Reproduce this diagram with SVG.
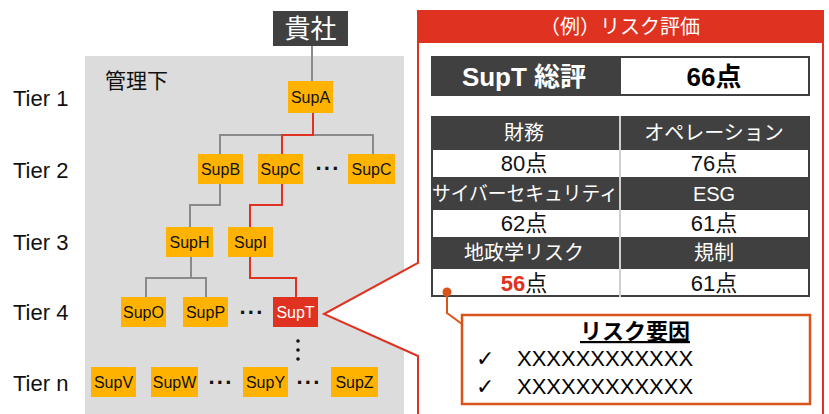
<svg xmlns="http://www.w3.org/2000/svg" width="829" height="414" viewBox="0 0 829 414">
<style>
.sup{fill:#FFB300}
.st{font-family:"Liberation Sans",Arial,sans-serif;font-size:16px;fill:#111;text-anchor:middle}
.tier{font-family:"Liberation Sans",Arial,sans-serif;font-size:22px;fill:#111}
.g{fill:none;stroke:#8a8a8a;stroke-width:2}
.r{fill:none;stroke:#E03220;stroke-width:2}
.dots{font-family:"Liberation Sans",Arial,sans-serif;font-size:22px;font-weight:bold;fill:#111;text-anchor:middle;letter-spacing:1px}
.jp{font-family:"Liberation Sans","Noto Sans CJK JP",sans-serif;text-anchor:middle}
.hd{font-size:20px;fill:#fff}
.vl{font-size:22px;fill:#111}
.chk{font-family:"DejaVu Sans",sans-serif;font-size:22px;fill:#000}
</style>
<rect width="829" height="414" fill="#fff"/>
<rect x="85" y="56" width="319" height="360" fill="#DCDCDC"/>
<text x="105" y="88" font-family="'Noto Sans CJK JP',sans-serif" font-size="21" fill="#111">管理下</text>
<g id="tiers">
<text class="tier" x="13" y="106">Tier 1</text>
<text class="tier" x="13" y="178">Tier 2</text>
<text class="tier" x="13" y="250">Tier 3</text>
<text class="tier" x="13" y="320">Tier 4</text>
<text class="tier" x="13" y="391">Tier n</text>
</g>
<g id="connectors">
<path class="g" d="M312 46V81"/>
<path class="g" d="M220 154V135H373V154"/>
<path class="g" d="M220 184V205H190V227"/>
<path class="g" d="M191 257V278H146V297M191 278H206V297"/>
<path class="r" d="M313 113V135H282V154"/>
<path class="r" d="M282 184V205H250V227"/>
<path class="r" d="M250 257V278H296V297"/>
</g>
<g id="kisha"><rect x="273" y="11" width="75" height="35" fill="#404040"/><text x="310.5" y="38" class="jp" font-size="26" fill="#fff">貴社</text></g>
<g id="supA"><rect class="sup" x="288" y="81" width="45" height="32"/><text class="st" x="310.5" y="103">SupA</text></g>
<g id="supB"><rect class="sup" x="198" y="154" width="45" height="30"/><text class="st" x="220.5" y="175">SupB</text></g>
<g id="supC"><rect class="sup" x="258" y="154" width="45" height="30"/><text class="st" x="280.5" y="175">SupC</text></g>
<text class="dots" x="328" y="176">···</text>
<g id="supC2"><rect class="sup" x="348" y="154" width="47" height="30"/><text class="st" x="371.5" y="175">SupC</text></g>
<g id="supH"><rect class="sup" x="166" y="227" width="47" height="30"/><text class="st" x="189.5" y="248">SupH</text></g>
<g id="supI"><rect class="sup" x="228" y="227" width="45" height="30"/><text class="st" x="250.5" y="248">SupI</text></g>
<g id="supO"><rect class="sup" x="121" y="297" width="45" height="30"/><text class="st" x="143.5" y="318">SupO</text></g>
<g id="supP"><rect class="sup" x="183" y="297" width="45" height="30"/><text class="st" x="205.5" y="318">SupP</text></g>
<text class="dots" x="252" y="320">···</text>
<g id="supT"><rect x="273" y="297" width="45" height="30" fill="#E03220"/><text class="st" x="295.5" y="318" style="fill:#fff">SupT</text></g>
<g id="vdots" fill="#111"><circle cx="298" cy="341" r="1.8"/><circle cx="298" cy="350" r="1.8"/><circle cx="298" cy="359" r="1.8"/></g>
<g id="supV"><rect class="sup" x="91" y="367" width="45" height="30"/><text class="st" x="113.5" y="388">SupV</text></g>
<g id="supW"><rect class="sup" x="151" y="367" width="47" height="30"/><text class="st" x="174.5" y="388">SupW</text></g>
<text class="dots" x="221" y="390">···</text>
<g id="supY"><rect class="sup" x="243" y="367" width="45" height="30"/><text class="st" x="265.5" y="388">SupY</text></g>
<text class="dots" x="309" y="390">···</text>
<g id="supZ"><rect class="sup" x="331" y="367" width="47" height="30"/><text class="st" x="354.5" y="388">SupZ</text></g>

<g id="risk-panel">
<path d="M418 11H823V420H418V356L324 314L418 263Z" fill="#fff" stroke="#E03220" stroke-width="2"/>
<rect x="418" y="11" width="405" height="32" fill="#E03220"/>
<text x="620" y="34" class="jp" font-size="20" fill="#fff">（例）リスク評価</text>
<rect x="431" y="56" width="379" height="40" fill="#404040"/>
<rect x="621" y="58" width="187" height="36" fill="#fff"/>
<text x="524" y="86" class="jp" font-size="26" font-weight="bold" fill="#fff">SupT 総評</text>
<text x="714" y="86" class="jp" font-size="26" font-weight="bold" fill="#000">66点</text>
<rect x="431" y="116" width="379" height="181" fill="#404040"/>
<rect x="433" y="150" width="375" height="27" fill="#fff"/>
<rect x="433" y="210" width="375" height="27" fill="#fff"/>
<rect x="433" y="269" width="375" height="26" fill="#fff"/>
<path d="M620 116V297" stroke="#d0d0d0" stroke-width="2"/>
<text x="524" y="140" class="jp hd">財務</text>
<text x="714" y="140" class="jp hd">オペレーション</text>
<text x="524" y="171" class="jp vl">80点</text>
<text x="714" y="171" class="jp vl">76点</text>
<text x="525" y="201" class="jp hd" textLength="186" lengthAdjust="spacingAndGlyphs">サイバーセキュリティ</text>
<text x="714" y="201" class="jp hd">ESG</text>
<text x="524" y="231" class="jp vl">62点</text>
<text x="714" y="231" class="jp vl">61点</text>
<text x="524" y="260" class="jp hd">地政学リスク</text>
<text x="714" y="260" class="jp hd">規制</text>
<text x="524" y="291" class="jp vl"><tspan fill="#E03220" font-weight="bold">56</tspan>点</text>
<text x="714" y="291" class="jp vl">61点</text>
</g>
<g id="risk-factors">
<path d="M447 292V313L462 324" fill="none" stroke="#D9541A" stroke-width="2"/>
<circle cx="447" cy="292" r="4.5" fill="#D9541A"/>
<rect x="462" y="315" width="348" height="89" fill="#fff" stroke="#D9541A" stroke-width="2.5"/>
<text x="635" y="339" class="jp" font-size="22" font-weight="bold" fill="#000" text-decoration="underline">リスク要因</text>
<text class="chk" x="476" y="366">✓</text>
<text x="517" y="366" font-family="'Liberation Sans',Arial,sans-serif" font-size="22" fill="#000">XXXXXXXXXXXX</text>
<text class="chk" x="476" y="394">✓</text>
<text x="517" y="394" font-family="'Liberation Sans',Arial,sans-serif" font-size="22" fill="#000">XXXXXXXXXXXX</text>
</g>
</svg>
